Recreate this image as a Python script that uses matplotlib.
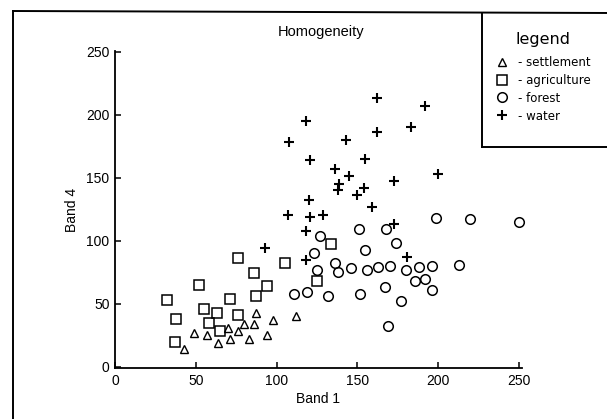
import matplotlib
matplotlib.use("Agg")
import matplotlib.pyplot as plt
from matplotlib.lines import Line2D

# ---- data (Band 1, Band 4) ----
settlement_x = [43, 49, 57, 64, 70, 71, 76, 80, 83, 86, 87, 94, 98, 112]
settlement_y = [14, 27, 25, 19, 31, 22, 28, 34, 22, 34, 43, 25, 37, 40]

agriculture_x = [32, 38, 37, 52, 55, 58, 63, 65, 71, 76, 76, 86, 87, 94, 105, 125, 134]
agriculture_y = [53, 38, 20, 65, 46, 35, 43, 28, 54, 41, 86, 74, 56, 64, 82, 68, 97]

forest_x = [111, 119, 123, 125, 127, 132, 136, 138, 146, 151, 152, 155, 156, 163, 167,
            168, 170, 169, 174, 177, 180, 186, 188, 192, 196, 196, 199, 213, 220, 250]
forest_y = [58, 59, 90, 77, 104, 56, 82, 75, 78, 109, 58, 93, 77, 79, 63,
            109, 80, 32, 98, 52, 77, 68, 79, 70, 80, 61, 118, 81, 117, 115]

water_x = [93, 107, 108, 118, 118, 118, 120, 121, 121, 129, 136, 138, 139, 143,
           145, 150, 154, 155, 159, 162, 162, 173, 173, 181, 183, 192, 200]
water_y = [94, 120, 178, 195, 108, 85, 132, 164, 119, 120, 157, 140, 145, 180,
           151, 136, 142, 165, 127, 213, 186, 147, 113, 87, 190, 207, 153]

xticks = [0, 50, 100, 150, 200, 250]
yticks = [0, 50, 100, 150, 200, 250]
labels = ["- settlement", "- agriculture", "- forest", "- water"]

W, H = 607, 419
fig = plt.figure(figsize=(W / 100, H / 100), dpi=100)
fig.patch.set_facecolor("white")

def fx(px):
    return px / W

def fy(py):
    return 1 - py / H

ax_left, ax_right, ax_top, ax_bottom = 115, 522, 51, 368
ax = fig.add_axes([fx(ax_left), fy(ax_bottom), (ax_right - ax_left) / W, (ax_bottom - ax_top) / H])

mk = dict(linestyle="none", markerfacecolor="none", markeredgecolor="black", clip_on=False)
h1, = ax.plot(settlement_x, settlement_y, marker="^", markersize=5.8, markeredgewidth=1.0, **mk)
h2, = ax.plot(agriculture_x, agriculture_y, marker="s", markersize=6.7, markeredgewidth=1.1, **mk)
h3, = ax.plot(forest_x, forest_y, marker="o", markersize=6.9, markeredgewidth=1.1, **mk)
h4, = ax.plot(water_x, water_y, marker="+", markersize=7, markeredgewidth=1.5,
              linestyle="none", color="black", clip_on=False)

ax.set_xlim(0, 252)
ax.set_ylim(-1, 250.5)
ax.set_xticks(xticks)
ax.set_yticks(yticks)
for s in ["top", "right"]:
    ax.spines[s].set_visible(False)
for s in ["left", "bottom"]:
    ax.spines[s].set_linewidth(1.3)
    ax.spines[s].set_color("black")
ax.tick_params(direction="in", length=4, width=1.1, labelsize=10, pad=4)
for lab in ax.get_xticklabels() + ax.get_yticklabels():
    lab.set_fontfamily("Liberation Sans")
ax.set_xlabel("Band 1", fontsize=10, family="Liberation Sans", labelpad=3)
ax.set_ylabel("Band 4", fontsize=10, family="Liberation Sans", labelpad=5)

fig.text(fx(321), fy(32), "Homogeneity", ha="center", va="center",
         fontsize=10.5, family="Liberation Sans")

# outer frame and legend box
lw = 1.4
fig.add_artist(Line2D([fx(13), fx(13)], [fy(11), fy(H + 5)], transform=fig.transFigure, color="black", lw=lw))
fig.add_artist(Line2D([fx(13), fx(W + 5)], [fy(11), fy(13)], transform=fig.transFigure, color="black", lw=lw))
fig.add_artist(Line2D([fx(482), fx(482)], [fy(13), fy(147)], transform=fig.transFigure, color="black", lw=lw))
fig.add_artist(Line2D([fx(482), fx(W + 5)], [fy(147), fy(147)], transform=fig.transFigure, color="black", lw=lw))

leg = fig.legend([h1, h2, h3, h4], labels, loc="upper left",
                 bbox_to_anchor=(fx(494), fy(30)), frameon=False,
                 title="legend", title_fontproperties={"size": 11.5, "family": "DejaVu Sans"},
                 prop={"size": 8.5, "family": "DejaVu Sans"},
                 handlelength=0.9, handletextpad=0.9, labelspacing=0.42,
                 borderpad=0.2, borderaxespad=0, numpoints=1)
leg._legend_box.sep = 6

fig.savefig("out.png", dpi=100, facecolor="white")
